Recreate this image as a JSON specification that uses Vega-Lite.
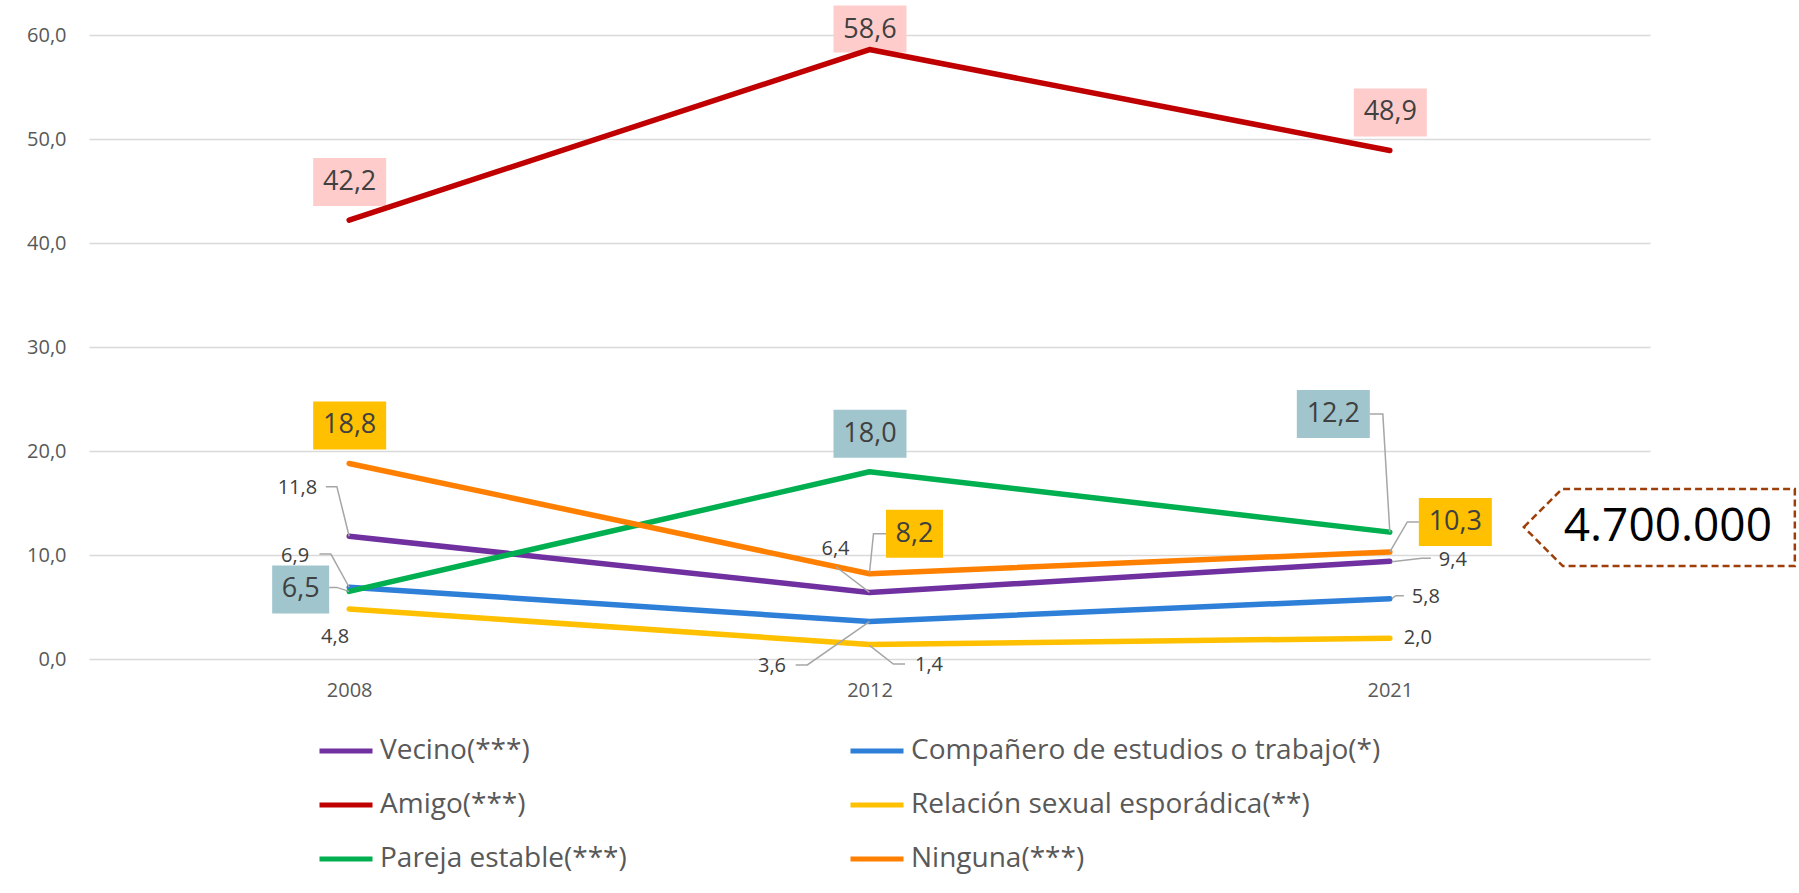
{
  "$schema": "https://vega.github.io/schema/vega-lite/v6.json",
  "autosize": {"type": "none"},
  "width": 1561,
  "height": 624,
  "padding": {"left": 89, "top": 35, "right": 149, "bottom": 234},
  "background": "white",
  "config": {
    "view": {"stroke": null},
    "font": "Open Sans",
    "locale": {"number": {"decimal": ",", "thousands": ".", "grouping": [3], "currency": ["", " €"]}}
  },
  "data": {"values": [
    {"serie": "Vecino(***)", "k": "V", "year": "2008", "v": 11.8},
    {"serie": "Vecino(***)", "k": "V", "year": "2012", "v": 6.4},
    {"serie": "Vecino(***)", "k": "V", "year": "2021", "v": 9.4},
    {"serie": "Compañero de estudios o trabajo(*)", "k": "C", "year": "2008", "v": 6.9},
    {"serie": "Compañero de estudios o trabajo(*)", "k": "C", "year": "2012", "v": 3.6},
    {"serie": "Compañero de estudios o trabajo(*)", "k": "C", "year": "2021", "v": 5.8},
    {"serie": "Amigo(***)", "k": "A", "year": "2008", "v": 42.2},
    {"serie": "Amigo(***)", "k": "A", "year": "2012", "v": 58.6},
    {"serie": "Amigo(***)", "k": "A", "year": "2021", "v": 48.9},
    {"serie": "Relación sexual esporádica(**)", "k": "R", "year": "2008", "v": 4.8},
    {"serie": "Relación sexual esporádica(**)", "k": "R", "year": "2012", "v": 1.4},
    {"serie": "Relación sexual esporádica(**)", "k": "R", "year": "2021", "v": 2.0},
    {"serie": "Pareja estable(***)", "k": "P", "year": "2008", "v": 6.5},
    {"serie": "Pareja estable(***)", "k": "P", "year": "2012", "v": 18.0},
    {"serie": "Pareja estable(***)", "k": "P", "year": "2021", "v": 12.2},
    {"serie": "Ninguna(***)", "k": "N", "year": "2008", "v": 18.8},
    {"serie": "Ninguna(***)", "k": "N", "year": "2012", "v": 8.2},
    {"serie": "Ninguna(***)", "k": "N", "year": "2021", "v": 10.3}
  ]},
  "encoding": {
    "x": {"field": "year", "type": "ordinal",
      "scale": {"type": "point", "padding": 0.5, "domain": ["2008", "2012", "2021"]},
      "axis": {"title": null, "domain": false, "ticks": false, "labelAngle": 0, "labelFontSize": 20, "labelColor": "#595959", "labelPadding": 31, "labelBaseline": "middle", "labelFont": "Open Sans"}},
    "y": {"field": "v", "type": "quantitative",
      "scale": {"domain": [0, 60], "nice": false, "zero": true},
      "axis": {"title": null, "domain": false, "ticks": false, "values": [0, 10, 20, 30, 40, 50, 60], "format": ".1f", "labelFontSize": 20, "labelColor": "#595959", "labelPadding": 23, "labelFont": "Open Sans", "gridColor": "#D9D9D9", "gridWidth": 1.5}}
  },
  "layer": [
    {"transform": [{"filter": "datum.k=='A' && (datum.year=='2008' || datum.year=='2021')"}],
     "mark": {"type": "point", "shape": "M-36,-62H37V-14H-36Z", "size": 4, "filled": true, "fill": "#FFCCCC", "opacity": 1, "strokeWidth": 0}},
    {"transform": [{"filter": "datum.k=='A' && datum.year=='2012'"}],
     "mark": {"type": "point", "shape": "M-36,-44H37V3H-36Z", "size": 4, "filled": true, "fill": "#FFCCCC", "opacity": 1, "strokeWidth": 0}},
    {"transform": [{"filter": "datum.k=='N' && datum.year=='2008'"}],
     "mark": {"type": "point", "shape": "M-36,-62H37V-14H-36Z", "size": 4, "filled": true, "fill": "#FFC000", "opacity": 1, "strokeWidth": 0}},
    {"transform": [{"filter": "datum.k=='N' && datum.year=='2012'"}],
     "mark": {"type": "point", "shape": "M16.5,-64H73.5V-16H16.5Z", "size": 4, "filled": true, "fill": "#FFC000", "opacity": 1, "strokeWidth": 0}},
    {"transform": [{"filter": "datum.k=='N' && datum.year=='2021'"}],
     "mark": {"type": "point", "shape": "M29,-54H102V-6H29Z", "size": 4, "filled": true, "fill": "#FFC000", "opacity": 1, "strokeWidth": 0}},
    {"transform": [{"filter": "datum.k=='P' && datum.year=='2008'"}],
     "mark": {"type": "point", "shape": "M-77,-26H-20V22H-77Z", "size": 4, "filled": true, "fill": "#A0C5CD", "opacity": 1, "strokeWidth": 0}},
    {"transform": [{"filter": "datum.k=='P' && datum.year=='2012'"}],
     "mark": {"type": "point", "shape": "M-36,-62H37V-14H-36Z", "size": 4, "filled": true, "fill": "#A0C5CD", "opacity": 1, "strokeWidth": 0}},
    {"transform": [{"filter": "datum.k=='P' && datum.year=='2021'"}],
     "mark": {"type": "point", "shape": "M-93,-142H-20V-94H-93Z", "size": 4, "filled": true, "fill": "#A0C5CD", "opacity": 1, "strokeWidth": 0}},
    {"transform": [{"filter": "datum.k=='P' && datum.year=='2021'"}],
     "mark": {"type": "point", "shape": "M134,-5L172,-43H405V34H173Z", "size": 4, "filled": true, "fill": "white", "stroke": "#9E3F0B", "strokeWidth": 2.5, "strokeDash": [7, 4], "opacity": 1}},
    {"mark": {"type": "line", "strokeWidth": 5.5, "strokeCap": "round", "strokeJoin": "round"},
     "encoding": {"color": {"field": "serie", "type": "nominal",
       "scale": {"domain": ["Vecino(***)", "Compañero de estudios o trabajo(*)", "Amigo(***)", "Relación sexual esporádica(**)", "Pareja estable(***)", "Ninguna(***)"],
                 "range": ["#7030A0", "#2E7FD8", "#C00000", "#FFC000", "#00B050", "#FF8000"]},
       "legend": {"title": null, "orient": "none", "legendX": 228, "legendY": 687, "direction": "horizontal", "columns": 2, "symbolType": "stroke", "symbolSize": 2809, "symbolStrokeWidth": 5, "labelFontSize": 28, "labelFont": "Open Sans", "labelColor": "#595959", "labelOffset": 5, "columnPadding": 213, "rowPadding": 11, "labelLimit": 0, "padding": 0}}}},
    {"transform": [{"filter": "(datum.k=='N' && datum.year=='2012')"}],
     "mark": {"type": "point", "shape": "M0,-1L4,-40H16.5", "size": 4, "filled": false, "stroke": "#A6A6A6", "strokeWidth": 1.5, "opacity": 1}},
    {"transform": [{"filter": "(datum.k=='N' && datum.year=='2021')"}],
     "mark": {"type": "point", "shape": "M0,0L17.5,-30H29", "size": 4, "filled": false, "stroke": "#A6A6A6", "strokeWidth": 1.5, "opacity": 1}},
    {"transform": [{"filter": "(datum.k=='P' && datum.year=='2008')"}],
     "mark": {"type": "point", "shape": "M-20,-4H-12.5L0,0", "size": 4, "filled": false, "stroke": "#A6A6A6", "strokeWidth": 1.5, "opacity": 1}},
    {"transform": [{"filter": "(datum.k=='P' && datum.year=='2021')"}],
     "mark": {"type": "point", "shape": "M-20,-118H-7L0,0", "size": 4, "filled": false, "stroke": "#A6A6A6", "strokeWidth": 1.5, "opacity": 1}},
    {"transform": [{"filter": "(datum.k=='V' && datum.year=='2008')"}],
     "mark": {"type": "point", "shape": "M-23.3,-49.6H-12.3L0,0", "size": 4, "filled": false, "stroke": "#A6A6A6", "strokeWidth": 1.5, "opacity": 1}},
    {"transform": [{"filter": "(datum.k=='C' && datum.year=='2008')"}],
     "mark": {"type": "point", "shape": "M-29.7,-33.2H-18.3L0,0", "size": 4, "filled": false, "stroke": "#A6A6A6", "strokeWidth": 1.5, "opacity": 1}},
    {"transform": [{"filter": "(datum.k=='V' && datum.year=='2012')"}],
     "mark": {"type": "point", "shape": "M-33.5,-25.7L0,0", "size": 4, "filled": false, "stroke": "#A6A6A6", "strokeWidth": 1.5, "opacity": 1}},
    {"transform": [{"filter": "(datum.k=='C' && datum.year=='2012')"}],
     "mark": {"type": "point", "shape": "M-73.8,43.4H-62.2L0,0", "size": 4, "filled": false, "stroke": "#A6A6A6", "strokeWidth": 1.5, "opacity": 1}},
    {"transform": [{"filter": "(datum.k=='R' && datum.year=='2012')"}],
     "mark": {"type": "point", "shape": "M0,1L23.8,19.6H35.5", "size": 4, "filled": false, "stroke": "#A6A6A6", "strokeWidth": 1.5, "opacity": 1}},
    {"transform": [{"filter": "(datum.k=='V' && datum.year=='2021')"}],
     "mark": {"type": "point", "shape": "M2,0.5L32,-3H41", "size": 4, "filled": false, "stroke": "#A6A6A6", "strokeWidth": 1.5, "opacity": 1}},
    {"transform": [{"filter": "(datum.k=='C' && datum.year=='2021')"}],
     "mark": {"type": "point", "shape": "M2,0L6,-3H14", "size": 4, "filled": false, "stroke": "#A6A6A6", "strokeWidth": 1.5, "opacity": 1}},
    {"transform": [{"filter": "(datum.k=='A' && datum.year!='2012') || (datum.k=='N' && datum.year=='2008') || (datum.k=='P' && datum.year=='2012')"}],
     "mark": {"type": "text", "fontSize": 27, "color": "#404040", "align": "center", "baseline": "middle", "dx": 0.5, "dy": -38},
     "encoding": {"text": {"field": "v", "type": "quantitative", "format": ".1f"}}},
    {"transform": [{"filter": "datum.k=='A' && datum.year=='2012'"}],
     "mark": {"type": "text", "fontSize": 27, "color": "#404040", "align": "center", "baseline": "middle", "dx": 0.5, "dy": -20},
     "encoding": {"text": {"field": "v", "type": "quantitative", "format": ".1f"}}},
    {"transform": [{"filter": "datum.k=='N' && datum.year=='2012'"}],
     "mark": {"type": "text", "fontSize": 27, "color": "#404040", "align": "center", "baseline": "middle", "dx": 45, "dy": -40},
     "encoding": {"text": {"field": "v", "type": "quantitative", "format": ".1f"}}},
    {"transform": [{"filter": "datum.k=='N' && datum.year=='2021'"}],
     "mark": {"type": "text", "fontSize": 27, "color": "#404040", "align": "center", "baseline": "middle", "dx": 65.5, "dy": -30},
     "encoding": {"text": {"field": "v", "type": "quantitative", "format": ".1f"}}},
    {"transform": [{"filter": "datum.k=='P' && datum.year=='2008'"}],
     "mark": {"type": "text", "fontSize": 27, "color": "#404040", "align": "center", "baseline": "middle", "dx": -48.5, "dy": -2},
     "encoding": {"text": {"field": "v", "type": "quantitative", "format": ".1f"}}},
    {"transform": [{"filter": "datum.k=='P' && datum.year=='2021'"}],
     "mark": {"type": "text", "fontSize": 27, "color": "#404040", "align": "center", "baseline": "middle", "dx": -56.5, "dy": -118},
     "encoding": {"text": {"field": "v", "type": "quantitative", "format": ".1f"}}},
    {"transform": [{"filter": "datum.k=='V' && datum.year=='2008'"}],
     "mark": {"type": "text", "fontSize": 20, "color": "#404040", "align": "right", "baseline": "middle", "dx": -32, "dy": -48},
     "encoding": {"text": {"field": "v", "type": "quantitative", "format": ".1f"}}},
    {"transform": [{"filter": "datum.k=='C' && datum.year=='2008'"}],
     "mark": {"type": "text", "fontSize": 20, "color": "#404040", "align": "right", "baseline": "middle", "dx": -40, "dy": -31.5},
     "encoding": {"text": {"field": "v", "type": "quantitative", "format": ".1f"}}},
    {"transform": [{"filter": "datum.k=='R' && datum.year=='2008'"}],
     "mark": {"type": "text", "fontSize": 20, "color": "#404040", "align": "right", "baseline": "middle", "dx": 0, "dy": 28},
     "encoding": {"text": {"field": "v", "type": "quantitative", "format": ".1f"}}},
    {"transform": [{"filter": "datum.k=='V' && datum.year=='2012'"}],
     "mark": {"type": "text", "fontSize": 20, "color": "#404040", "align": "center", "baseline": "middle", "dx": -34, "dy": -43},
     "encoding": {"text": {"field": "v", "type": "quantitative", "format": ".1f"}}},
    {"transform": [{"filter": "datum.k=='C' && datum.year=='2012'"}],
     "mark": {"type": "text", "fontSize": 20, "color": "#404040", "align": "right", "baseline": "middle", "dx": -83.5, "dy": 44},
     "encoding": {"text": {"field": "v", "type": "quantitative", "format": ".1f"}}},
    {"transform": [{"filter": "datum.k=='R' && datum.year=='2012'"}],
     "mark": {"type": "text", "fontSize": 20, "color": "#404040", "align": "left", "baseline": "middle", "dx": 45.5, "dy": 21},
     "encoding": {"text": {"field": "v", "type": "quantitative", "format": ".1f"}}},
    {"transform": [{"filter": "datum.k=='V' && datum.year=='2021'"}],
     "mark": {"type": "text", "fontSize": 20, "color": "#404040", "align": "left", "baseline": "middle", "dx": 49, "dy": -1},
     "encoding": {"text": {"field": "v", "type": "quantitative", "format": ".1f"}}},
    {"transform": [{"filter": "datum.k=='C' && datum.year=='2021'"}],
     "mark": {"type": "text", "fontSize": 20, "color": "#404040", "align": "left", "baseline": "middle", "dx": 22, "dy": -2},
     "encoding": {"text": {"field": "v", "type": "quantitative", "format": ".1f"}}},
    {"transform": [{"filter": "datum.k=='R' && datum.year=='2021'"}],
     "mark": {"type": "text", "fontSize": 20, "color": "#404040", "align": "left", "baseline": "middle", "dx": 14, "dy": 0},
     "encoding": {"text": {"field": "v", "type": "quantitative", "format": ".1f"}}},
    {"transform": [{"filter": "datum.k=='P' && datum.year=='2021'"}],
     "mark": {"type": "text", "text": "4.700.000", "fontSize": 46, "color": "#000000", "align": "center", "baseline": "middle", "dx": 278, "dy": -5}}
  ]
}
